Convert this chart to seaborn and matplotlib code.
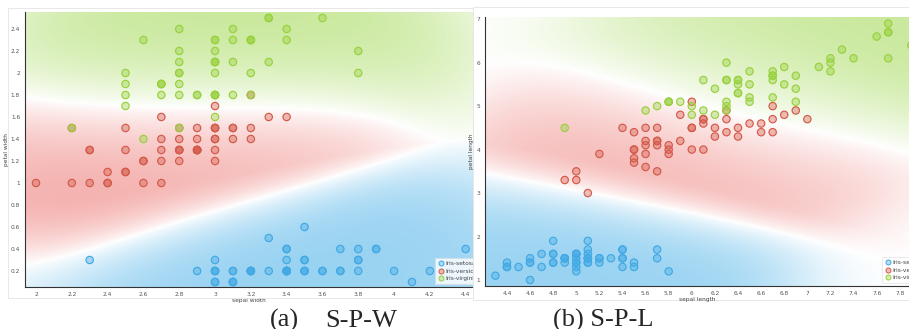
import numpy as np
import pandas as pd
import matplotlib
matplotlib.use("Agg")
import matplotlib.pyplot as plt
import seaborn as sns
from matplotlib.patches import Rectangle
from matplotlib.lines import Line2D

# iris data (setosa, versicolor, virginica - 50 each)
sepal_length = [
    5.1, 4.9, 4.7, 4.6, 5.0, 5.4, 4.6, 5.0, 4.4, 4.9, 5.4, 4.8, 4.8, 4.3, 5.8, 5.7, 5.4, 5.1, 5.7, 5.1, 5.4, 5.1, 4.6, 5.1, 4.8,
    5.0, 5.0, 5.2, 5.2, 4.7, 4.8, 5.4, 5.2, 5.5, 4.9, 5.0, 5.5, 4.9, 4.4, 5.1, 5.0, 4.5, 4.4, 5.0, 5.1, 4.8, 5.1, 4.6, 5.3, 5.0,
    7.0, 6.4, 6.9, 5.5, 6.5, 5.7, 6.3, 4.9, 6.6, 5.2, 5.0, 5.9, 6.0, 6.1, 5.6, 6.7, 5.6, 5.8, 6.2, 5.6, 5.9, 6.1, 6.3, 6.1, 6.4,
    6.6, 6.8, 6.7, 6.0, 5.7, 5.5, 5.5, 5.8, 6.0, 5.4, 6.0, 6.7, 6.3, 5.6, 5.5, 5.5, 6.1, 5.8, 5.0, 5.6, 5.7, 5.7, 6.2, 5.1, 5.7,
    6.3, 5.8, 7.1, 6.3, 6.5, 7.6, 4.9, 7.3, 6.7, 7.2, 6.5, 6.4, 6.8, 5.7, 5.8, 6.4, 6.5, 7.7, 7.7, 6.0, 6.9, 5.6, 7.7, 6.3, 6.7,
    7.2, 6.2, 6.1, 6.4, 7.2, 7.4, 7.9, 6.4, 6.3, 6.1, 7.7, 6.3, 6.4, 6.0, 6.9, 6.7, 6.9, 5.8, 6.8, 6.7, 6.7, 6.3, 6.5, 6.2, 5.9,
]
sepal_width = [
    3.5, 3.0, 3.2, 3.1, 3.6, 3.9, 3.4, 3.4, 2.9, 3.1, 3.7, 3.4, 3.0, 3.0, 4.0, 4.4, 3.9, 3.5, 3.8, 3.8, 3.4, 3.7, 3.6, 3.3, 3.4,
    3.0, 3.4, 3.5, 3.4, 3.2, 3.1, 3.4, 4.1, 4.2, 3.1, 3.2, 3.5, 3.1, 3.0, 3.4, 3.5, 2.3, 3.2, 3.5, 3.8, 3.0, 3.8, 3.2, 3.7, 3.3,
    3.2, 3.2, 3.1, 2.3, 2.8, 2.8, 3.3, 2.4, 2.9, 2.7, 2.0, 3.0, 2.2, 2.9, 2.9, 3.1, 3.0, 2.7, 2.2, 2.5, 3.2, 2.8, 2.5, 2.8, 2.9,
    3.0, 2.8, 3.0, 2.9, 2.6, 2.4, 2.4, 2.7, 2.7, 3.0, 3.4, 3.1, 2.3, 3.0, 2.5, 2.6, 3.0, 2.6, 2.3, 2.7, 3.0, 2.9, 2.9, 2.5, 2.8,
    3.3, 2.7, 3.0, 2.9, 3.0, 3.0, 2.5, 2.9, 2.5, 3.6, 3.2, 2.7, 3.0, 2.5, 2.8, 3.2, 3.0, 3.8, 2.6, 2.2, 3.2, 2.8, 2.8, 2.7, 3.3,
    3.2, 2.8, 3.0, 2.8, 3.0, 2.8, 3.8, 2.8, 2.8, 2.6, 3.0, 3.4, 3.1, 3.0, 3.1, 3.1, 3.1, 2.7, 3.2, 3.3, 3.0, 2.5, 3.0, 3.4, 3.0,
]
petal_length = [
    1.4, 1.4, 1.3, 1.5, 1.4, 1.7, 1.4, 1.5, 1.4, 1.5, 1.5, 1.6, 1.4, 1.1, 1.2, 1.5, 1.3, 1.4, 1.7, 1.5, 1.7, 1.5, 1.0, 1.7, 1.9,
    1.6, 1.6, 1.5, 1.4, 1.6, 1.6, 1.5, 1.5, 1.4, 1.5, 1.2, 1.3, 1.5, 1.3, 1.5, 1.3, 1.3, 1.3, 1.6, 1.9, 1.4, 1.6, 1.4, 1.5, 1.4,
    4.7, 4.5, 4.9, 4.0, 4.6, 4.5, 4.7, 3.3, 4.6, 3.9, 3.5, 4.2, 4.0, 4.7, 3.6, 4.4, 4.5, 4.1, 4.5, 3.9, 4.8, 4.0, 4.9, 4.7, 4.3,
    4.4, 4.8, 5.0, 4.5, 3.5, 3.8, 3.7, 3.9, 5.1, 4.5, 4.5, 4.7, 4.4, 4.1, 4.0, 4.4, 4.6, 4.0, 3.3, 4.2, 4.2, 4.2, 4.3, 3.0, 4.1,
    6.0, 5.1, 5.9, 5.6, 5.8, 6.6, 4.5, 6.3, 5.8, 6.1, 5.1, 5.3, 5.5, 5.0, 5.1, 5.3, 5.5, 6.7, 6.9, 5.0, 5.7, 4.9, 6.7, 4.9, 5.7,
    6.0, 4.8, 4.9, 5.6, 5.8, 6.1, 6.4, 5.6, 5.1, 5.6, 6.1, 5.6, 5.5, 4.8, 5.4, 5.6, 5.1, 5.1, 5.9, 5.7, 5.2, 5.0, 5.2, 5.4, 5.1,
]
petal_width = [
    0.2, 0.2, 0.2, 0.2, 0.2, 0.4, 0.3, 0.2, 0.2, 0.1, 0.2, 0.2, 0.1, 0.1, 0.2, 0.4, 0.4, 0.3, 0.3, 0.3, 0.2, 0.4, 0.2, 0.5, 0.2,
    0.2, 0.4, 0.2, 0.2, 0.2, 0.2, 0.4, 0.1, 0.2, 0.1, 0.2, 0.2, 0.1, 0.2, 0.2, 0.3, 0.3, 0.2, 0.6, 0.4, 0.3, 0.2, 0.2, 0.2, 0.2,
    1.4, 1.5, 1.5, 1.3, 1.5, 1.3, 1.6, 1.0, 1.3, 1.4, 1.0, 1.5, 1.0, 1.4, 1.3, 1.4, 1.5, 1.0, 1.5, 1.1, 1.8, 1.3, 1.5, 1.2, 1.3,
    1.4, 1.4, 1.7, 1.5, 1.0, 1.1, 1.0, 1.2, 1.6, 1.5, 1.6, 1.5, 1.3, 1.3, 1.3, 1.2, 1.4, 1.2, 1.0, 1.3, 1.2, 1.3, 1.3, 1.1, 1.3,
    2.5, 1.9, 2.1, 1.8, 2.2, 2.1, 1.7, 1.8, 1.8, 2.5, 2.0, 1.9, 2.1, 2.0, 2.4, 2.3, 1.8, 2.2, 2.3, 1.5, 2.3, 2.0, 2.0, 1.8, 2.1,
    1.8, 1.8, 1.8, 2.1, 1.6, 1.9, 2.0, 2.2, 1.5, 1.4, 2.3, 2.4, 1.8, 1.8, 2.1, 2.4, 2.3, 1.9, 2.3, 2.5, 2.3, 1.9, 2.0, 2.3, 1.8,
]
class_names = ["Iris-setosa", "Iris-versicolor", "Iris-virginica"]
species = [class_names[0]] * 50 + [class_names[1]] * 50 + [class_names[2]] * 50

xticks_a = [2, 2.2, 2.4, 2.6, 2.8, 3, 3.2, 3.4, 3.6, 3.8, 4, 4.2, 4.4]
yticks_a = [0.2, 0.4, 0.6, 0.8, 1, 1.2, 1.4, 1.6, 1.8, 2, 2.2, 2.4]
xticks_b = [4.4, 4.6, 4.8, 5, 5.2, 5.4, 5.6, 5.8, 6, 6.2, 6.4, 6.6, 6.8, 7, 7.2, 7.4, 7.6, 7.8]
yticks_b = [1, 2, 3, 4, 5, 6, 7]

df = pd.DataFrame({
    "sepal length": sepal_length,
    "sepal width": sepal_width,
    "petal length": petal_length,
    "petal width": petal_width,
    "species": species,
})

# colours: point rings and background tint
point_colors = {"Iris-setosa": "#42a9e4", "Iris-versicolor": "#d45a4a", "Iris-virginica": "#98d13e"}
region_rgb = np.array([[72, 176, 232], [232, 88, 82], [150, 212, 62]]) / 255.0

W, H = 909, 329


def px_rect(l, t, r, b):
    return [l / W, 1 - b / H, (r - l) / W, (b - t) / H]


def fmt(v):
    return f"{v:g}"


def region_image(ax, xs, ys, codes, xlim, ylim, bw=0.17, w0=1.5, strength=0.58, n=260):
    # smoothed class map: gaussian kernel per class in range-normalised space
    gx = np.linspace(xlim[0], xlim[1], n)
    gy = np.linspace(ylim[0], ylim[1], n)
    X, Y = np.meshgrid(gx, gy)
    sx = np.ptp(xs)
    sy = np.ptp(ys)
    d2 = ((X[..., None] - xs) / sx) ** 2 + ((Y[..., None] - ys) / sy) ** 2
    K = np.exp(-d2 / (2 * bw ** 2))
    w = np.stack([K[..., codes == i].sum(-1) for i in range(3)], -1)
    ws = np.sort(w, axis=-1)
    dom = (ws[..., -1] - ws[..., -2]) / (w.sum(-1) + w0)
    alpha = strength * np.clip(dom, 0, 1) ** 0.8
    col = region_rgb[np.argmax(w, axis=-1)]
    img = 1 - alpha[..., None] * (1 - col)
    ax.imshow(img, extent=(xlim[0], xlim[1], ylim[0], ylim[1]), origin="lower",
              aspect="auto", interpolation="bilinear", zorder=0)


def panel(ax, xcol, ycol, xlim, ylim, xticks, yticks, legend_xy, clip_legend=False):
    codes = df["species"].map({c: i for i, c in enumerate(class_names)}).to_numpy()
    region_image(ax, df[xcol].to_numpy(), df[ycol].to_numpy(), codes, xlim, ylim)
    sns.scatterplot(data=df, x=xcol, y=ycol, hue="species", palette=point_colors,
                    s=28, linewidth=0.85, legend=False, ax=ax, zorder=3)
    pts = ax.collections[-1]
    edge = pts.get_facecolors().copy()
    face = edge.copy()
    face[:, 3] = 0.38
    pts.set_facecolors(face)
    pts.set_edgecolors(edge)

    ax.set_xlim(*xlim)
    ax.set_ylim(*ylim)
    ax.set_xticks(xticks)
    ax.set_xticklabels([fmt(v) for v in xticks])
    ax.set_yticks(yticks)
    ax.set_yticklabels([fmt(v) for v in yticks])
    ax.tick_params(labelsize=4.2, labelcolor="#555555", color="#444444", length=2, width=0.5, pad=1.5)
    ax.set_xlabel(xcol, fontsize=4.2, color="#444444", labelpad=0.5)
    ax.set_ylabel(ycol, fontsize=4.2, color="#444444", labelpad=1.5)
    for s in ["top", "right"]:
        ax.spines[s].set_visible(False)
    for s in ["left", "bottom"]:
        ax.spines[s].set_color("#333333")
        ax.spines[s].set_linewidth(0.8)

    handles = []
    for c in class_names:
        rgba = matplotlib.colors.to_rgba(point_colors[c])
        handles.append(Line2D([], [], marker="o", linestyle="", markersize=3.6,
                              markerfacecolor=rgba[:3] + (0.38,), markeredgecolor=rgba,
                              markeredgewidth=0.7))
    leg = ax.legend(handles, class_names, loc="upper left", bbox_to_anchor=legend_xy,
                    bbox_transform=fig.transFigure, fontsize=4.2, frameon=True,
                    borderpad=0.5, labelspacing=0.45, handletextpad=0.2, handlelength=1.0,
                    borderaxespad=0, fancybox=False)
    leg.get_frame().set_edgecolor("#dddddd")
    leg.get_frame().set_linewidth(0.5)
    for t in leg.get_texts():
        t.set_color("#444444")
    if clip_legend:
        # the legend runs past the panel edge and is cut there, as in the source
        leg.legendPatch.set_clip_box(ax.bbox)
        leg.legendPatch.set_clip_on(True)
        for t in leg.get_texts():
            t.set_clip_box(ax.bbox)
            t.set_clip_on(True)


sns.set_style("white")
plt.rcParams["font.family"] = ["DejaVu Sans"]

fig = plt.figure(figsize=(9.09, 3.29), dpi=100)

# panel frames
fig.patches.append(Rectangle((8 / W, 1 - 298 / H), (473 - 8) / W, (298 - 8) / H, transform=fig.transFigure,
                             facecolor="none", edgecolor="#e4e4e4", linewidth=0.6, zorder=0.5))

ax_a = fig.add_axes(px_rect(25, 12, 473, 287))
panel(ax_a, "sepal width", "petal width", (1.9385, 4.441), (0.0545, 2.5545),
      xticks_a, yticks_a, (435 / W, 1 - 258 / H), clip_legend=True)

# right panel sits on top and hides what spills over from the left one
fig.patches.append(Rectangle((473 / W, 1 - 300 / H), (909 - 473) / W, (300 - 7) / H, transform=fig.transFigure,
                             facecolor="white", edgecolor="#e4e4e4", linewidth=0.6, zorder=1))
ax_b = fig.add_axes(px_rect(485, 17, 909, 286), zorder=2)
panel(ax_b, "sepal length", "petal length", (4.21, 7.88), (0.862, 7.05),
      xticks_b, yticks_b, (882 / W, 1 - 257 / H))

serif = ["Liberation Serif", "DejaVu Serif"]
fig.text(270 / W, 1 - 327 / H, "(a)", ha="left", va="baseline", fontsize=19, family=serif)
fig.text(325 / W, 1 - 327 / H, "S-P-W", ha="left", va="baseline", fontsize=19, family=serif)
fig.text(553 / W, 1 - 327 / H, "(b) S-P-L", ha="left", va="baseline", fontsize=19, family=serif)

fig.savefig("out.png", dpi=100)
